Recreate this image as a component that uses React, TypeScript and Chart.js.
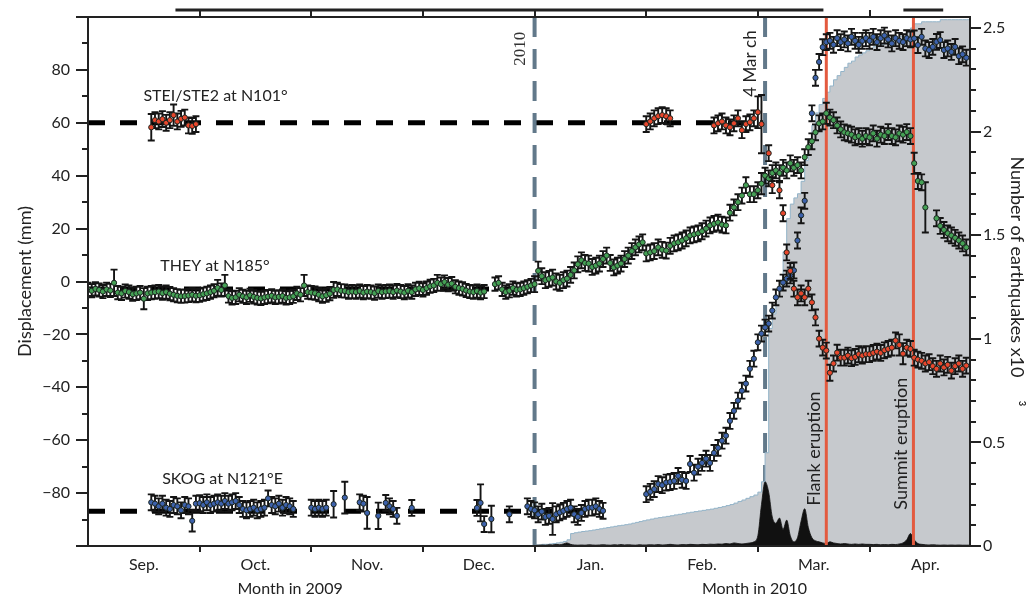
import React, { useEffect, useRef } from "react";
import { Chart, registerables } from "chart.js";

Chart.register(...registerables);

// ---------------- calendar / axes ----------------
const MONTH_LABELS = ["Sep.", "Oct.", "Nov.", "Dec.", "Jan.", "Feb.", "Mar.", "Apr."];
const MONTH_LENGTHS = [30, 31, 30, 31, 31, 28, 31, 30]; // Sep 2009 .. Apr 2010
const MONTH_STARTS = [0, 1, 2, 3, 4, 5, 6, 7];
const X_MAX = 7.9;
const LEFT_MIN = -100;
const LEFT_MAX = 100;
const RIGHT_MAX = 2.553;

// day indices counted from 1 Sep 2009
const SEP1 = 0;
const SEP18 = 17;
const FEB1 = 153;
const DEC31 = 121;

// ---------------- events ----------------
const YEAR_LINE_DAY = 122; // 1 Jan 2010
const MARCH_LINE_DAY = 183;
const FLANK_DAY = 200; // 20 Mar
const SUMMIT_DAY = 223.8;
const TOP_BARS = [
  [23.5, 199.2],
  [221.1, 231.8],
];

// reference (dashed) levels
const STEI_REF = 60;
const STEI_REF_END = 182.5;
const THEY_REF = -2.8;
const THEY_REF_END = 122;
const SKOG_REF = -86.9;
const SKOG_REF_END = 141;

// ---------------- THEY (green) ----------------
const theySep = [-3.0, -3.5, -2.8, -3.2, -3.8, -3.0, -3.4, -0.5, -4.2, -4.5, -3.6, -4.0, -4.8, -4.5, -4.2, -6.5, -4.5, -4.2, -4.0, -3.8, -4.4, -4.0, -4.6, -5.0, -5.4, -5.6, -5.5, -5.3, -5.0, -5.4];
const theyOct = [-5.2, -4.8, -4.5, -4.0, -3.5, -2.4, -3.2, -1.5, -5.5, -6.2, -6.0, -5.0, -5.6, -6.0, -5.2, -5.8, -6.2, -6.4, -6.0, -5.7, -5.4, -6.0, -5.8, -5.5, -6.2, -6.0, -5.6, -4.5, -5.0, -1.5, -4.0];
const theyNov = [-4.2, -4.4, -5.0, -5.6, -5.2, -4.6, -3.2, -3.0, -3.5, -3.6, -4.0, -3.8, -4.0, -3.6, -4.2, -3.8, -4.0, -4.4, -3.6, -4.0, -3.8, -3.6, -4.0, -3.4, -3.8, -4.2, -3.5, -4.0, -3.0, -2.6];
const theyDec = [-3.2, -2.5, -1.8, -1.5, -0.5, -1.0, -0.2, -1.2, -0.8, -2.0, -2.5, -2.8, -3.4, -3.8, -4.0, -3.6, -4.2, -3.8, null, null, -1.0, -0.5, -3.0, -4.0, -3.5, -2.5, -3.2, -3.0, -2.5, -2.0, -1.5];
const theyJan = [-1.0, 4.0, 2.0, 0.5, 1.0, 1.5, 0.0, -0.5, 0.5, 1.1, 2.5, 4.2, 6.5, 8.0, 7.0, 6.8, 5.5, 6.0, 6.8, 8.5, 9.8, 7.0, 5.3, 6.0, 6.8, 8.5, 9.8, 11.5, 12.9, 14.0, 14.8];
const theyFeb = [10.6, 11.0, 11.5, 12.9, 12.0, 11.7, 13.5, 14.4, 14.8, 15.5, 16.3, 17.4, 17.8, 18.2, 19.0, 20.0, 21.2, 21.8, 22.3, 21.5, 21.2, 26.0, 28.0, 30.0, 32.5, 36.4, 33.0, 33.0];
const theyMar = [34.5, 37.0, 40.0, 39.0, 41.0, 42.0, 41.0, 43.0, 42.0, 44.7, 43.0, 44.0, 42.0, 47.0, 50.8, 53.0, 56.4, 59.8, 60.5, 63.6, 62.0, 61.0, 59.0, 57.5, 56.4, 56.0, 55.5, 54.5, 55.0, 54.0, 55.0];
const theyApr = [54.5, 56.0, 54.0, 55.5, 55.0, 56.5, 55.0, 54.5, 56.0, 55.5, 56.5, 55.0, 44.7, 38.0, 37.5, 28.0, null, null, 23.9, 21.0, 19.5, 18.2, 17.4, 16.5, 15.5, 14.4, 12.9];
const theyErr = [
  2.5, 2.5, 2.5, 2.5, 2.5, 2.5, 2.5, 5, 2.5, 2.5, 2.5, 2.5, 2.5, 2.5, 2.5, 4, 2.5, 2.5, 2.5, 2.5, 2.5, 2.5, 2.5, 2.5, 2.5, 2.5, 2.5, 2.5, 2.5, 2.5,
  2.5, 2.5, 2.5, 2.5, 2.5, 3, 2.5, 4, 2.5, 2.5, 2.5, 2.5, 2.5, 2.5, 2.5, 2.5, 2.5, 2.5, 2.5, 2.5, 2.5, 2.5, 2.5, 2.5, 2.5, 2.5, 2.5, 2.5, 2.5, 4, 2.5,
  2.5, 2.5, 2.5, 2.5, 2.5, 2.5, 3, 2.5, 2.5, 2.5, 2.5, 2.5, 2.5, 2.5, 2.5, 2.5, 2.5, 2.5, 2.5, 2.5, 2.5, 2.5, 2.5, 2.5, 2.5, 2.5, 2.5, 2.5, 2.5, 2.5,
  2.5, 2.5, 2.5, 2.5, 3, 2.5, 2.5, 2.5, 2.5, 2.5, 2.5, 2.5, 2.5, 2.5, 2.5, 2.5, 2.5, 2.5, 2.5, 2.5, 2.5, 2.5, 2.5, 2.5, 2.5, 2.5, 2.5, 2.5, 2.5, 2.5, 2.5,
  3, 3.5, 3, 3, 3, 3, 3, 3, 3, 3, 3, 3, 3, 3, 3, 3, 3, 3, 3, 3, 3, 3, 3, 3, 3, 3, 3, 3, 3, 3, 3,
  3, 3, 3, 3, 3, 3, 3, 3, 3, 3, 3, 3, 3, 3, 3, 3, 3, 3, 3, 3, 3, 3, 3, 3, 3, 3, 3, 3,
  3, 4, 3, 3, 3, 3, 3, 3, 3, 3, 3, 3, 3, 3, 3, 3, 3, 3, 3, 4, 3, 3, 3, 3, 3, 3, 3, 3, 3, 3, 3,
  3, 3, 3, 3, 3, 3, 3, 3, 3, 3, 3, 3, 4, 3, 3, 9.5, 3, 3, 3, 3, 3, 3, 3, 3, 3, 3, 3,
];

// ---------------- SKOG (blue) ----------------
const skogSep = [-83.5, -84.0, -85.0, -84.0, -85.5, -86.0, -84.5, -85.0, -86.5, -84.5, -85.0, -90.5, -84.0];
const skogOct = [-83.8, -84.5, -83.5, -84.5, -84.0, -83.5, -84.0, -83.0, -84.0, -83.5, -83.0, -84.5, -86.0, -86.5, -86.0, -85.5, -86.5, -86.0, -85.5, -82.0, -84.5, -85.0, -84.0, -85.5, -84.5, -85.0, -86.0, null, null, null, null];
const skogNov = [-85.5, -86.0, -85.5, -86.0, -85.5, null, -84.2, null, null, -81.7, null, null, null, -83.5, -84.0, -87.5, null, null, -88.6, null, -83.7, -85.0, -86.0, -88.6, null, null, null, -85.6, null, null];
const skogDec = [null, null, null, null, null, null, null, null, null, null, null, null, null, null, null, -85.6, -83.7, -91.7, null, -89.8, null, null, null, null, -88.0, null, null, null, null, -85.0, -86.0];
const skogJan = [-86.5, -88.0, -87.0, -89.0, -88.6, -89.8, -88.0, -87.3, -86.7, -86.0, -85.5, -88.0, -89.0, -87.5, -86.0, -85.5, -85.5, -85.0, -86.0, -86.7, null, null, null, null, null, null, null, null, null, null, null];
const skogFeb = [-80.4, -79.5, -78.5, -76.6, -77.0, -76.0, -75.8, -75.4, -73.5, -75.0, -75.4, -69.0, -72.3, -70.0, -68.6, -67.0, -68.6, -64.8, -62.9, -60.2, -58.3, -52.7, -48.9, -45.0, -41.3, -38.6, -33.0, -29.2];
const skogMar = [-23.0, -19.7, -17.4, -15.9, -11.0, -6.0, -2.7, -0.4, 1.1, 2.3, 4.2, 15.5, 25.0, 30.5, null, 63.6, 77.0, 83.0, 88.6, 90.5, 91.0, 89.5, 92.0, 90.5, 91.5, 90.0, 92.5, 91.0, 89.5, 91.0, 92.0];
const skogApr = [91.0, 92.5, 90.5, 92.0, 93.0, 91.5, 90.0, 92.0, 91.0, 90.5, 92.0, 91.5, 91.9, 89.4, 92.5, 88.1, 87.5, 88.7, 90.6, 91.3, 87.5, 88.1, 86.8, 88.7, 85.2, 85.9, 84.6];
const skogErr = [
  3, 3, 3, 3, 3, 3, 3, 3, 3, 3, 3, 4, 3,
  3, 3, 3, 3, 3, 3, 3, 3, 3, 3, 3, 3, 3, 3, 3, 3, 3, 3, 3, 3, 3, 3, 3, 3, 3, 3, 3, 3, 3, 3, 3,
  3, 3, 3, 3, 3, 0, 5, 0, 0, 6, 0, 0, 0, 3, 3, 6, 0, 0, 5, 0, 3, 3, 3, 3, 0, 0, 0, 3, 0, 0,
  0, 0, 0, 0, 0, 0, 0, 0, 0, 0, 0, 0, 0, 0, 0, 3, 7, 3, 0, 5, 0, 0, 0, 0, 3, 0, 0, 0, 0, 3, 3,
  3, 3, 3, 3, 3, 6, 3, 3, 3, 3, 3, 3, 3, 3, 3, 3, 3, 3, 3, 3, 0, 0, 0, 0, 0, 0, 0, 0, 0, 0, 0,
  3, 3, 3, 3, 3, 3, 3, 3, 3, 3, 3, 3, 3, 3, 3, 3, 3, 3, 3, 3, 3, 3, 3, 3, 3, 3, 3, 3,
  3, 3, 3, 3, 3, 3, 3, 3, 3, 3, 3, 3, 3, 3, 0, 3, 3, 3, 3, 3, 3, 3, 3, 3, 3, 3, 3, 3, 3, 3, 3,
  3, 3, 3, 3, 3, 3, 3, 3, 3, 3, 3, 3, 3, 3, 3, 3, 3, 3, 3, 3, 3, 3, 3, 3, 3, 3, 3,
];

// ---------------- STEI/STE2 (red) ----------------
const steiSep = [58.3, 61.0, 60.5, 61.4, 60.0, 61.0, 62.9, 60.5, 61.5, 62.0, 59.0, 58.8, 59.5];
const steiSepErr = [5, 3, 3, 3, 3, 3, 4, 3, 3, 3, 3, 3, 3];
const steiFeb = [59.5, 60.5, 61.7, 62.5, 62.9, 62.5, 61.7, null, null, null, null, null, null, null, null, null, null, 59.0, 59.8, 60.5, 59.0, 58.3, 59.8, 61.7, 57.2, 59.5, 60.2, 61.7];
const steiMar = [64.0, 59.5, null, 48.5, 36.4, null, 34.5, 25.8, 11.0, 4.0, -2.7, -6.0, -4.5, -6.0, -2.7, -7.9, -13.6, -21.6, -25.0, -26.1, -34.5, -31.0, -26.9, -28.8, -28.8, -28.0, -29.0, -28.5, -27.5, -28.0, -27.5];
const steiApr = [-27.5, -27.0, -26.5, -27.0, -26.0, -25.5, -25.0, -22.3, -24.0, -27.3, -25.0, -25.5, -28.8, -29.5, -30.0, -31.0, -30.5, -32.0, -33.0, -31.0, -32.5, -31.5, -33.7, -32.0, -31.0, -33.0, -31.8];
const steiSpringErr = [
  3, 3, 3, 3, 3, 3, 3, 0, 0, 0, 0, 0, 0, 0, 0, 0, 0, 3, 3, 3, 3, 3, 3, 3, 3, 3, 3, 3,
  6, 11, 0, 3, 3, 0, 3, 3, 3, 3, 3, 3, 3, 3, 3, 3, 3, 3, 3, 3, 3, 3, 3, 3, 3, 3, 3, 3, 3, 3, 3,
  3, 3, 3, 3, 3, 3, 3, 3, 4, 4, 3, 3, 3, 3, 3, 3, 3, 3, 3, 3, 3, 3, 3, 3, 3, 3, 3,
];

// ---------------- earthquakes (x10^3), from 31 Dec 2009 ----------------
const quakeCumDec = [0];
const quakeCumJan = [0.005, 0.005, 0.008, 0.008, 0.01, 0.012, 0.015, 0.018, 0.022, 0.03, 0.06, 0.064, 0.067, 0.07, 0.072, 0.074, 0.077, 0.08, 0.083, 0.086, 0.089, 0.092, 0.095, 0.098, 0.1, 0.103, 0.106, 0.11, 0.114, 0.118, 0.122];
const quakeCumFeb = [0.126, 0.13, 0.134, 0.137, 0.14, 0.143, 0.146, 0.15, 0.153, 0.156, 0.16, 0.163, 0.166, 0.169, 0.172, 0.175, 0.178, 0.182, 0.186, 0.19, 0.195, 0.2, 0.207, 0.215, 0.222, 0.23, 0.238, 0.246];
const quakeCumMar = [0.26, 0.31, 0.45, 1.05, 1.12, 1.2, 1.26, 1.42, 1.58, 1.65, 1.68, 1.7, 1.76, 1.86, 1.96, 2.03, 2.09, 2.13, 2.16, 2.19, 2.22, 2.25, 2.27, 2.29, 2.31, 2.33, 2.34, 2.36, 2.37, 2.38, 2.39];
const quakeCumApr = [2.4, 2.41, 2.42, 2.42, 2.43, 2.43, 2.44, 2.45, 2.46, 2.47, 2.48, 2.5, 2.52, 2.52, 2.53, 2.53, 2.53, 2.53, 2.53, 2.54, 2.54, 2.54, 2.54, 2.54, 2.54, 2.54, 2.54, 2.54];

const quakeDayDec = [0];
const quakeDayJan = [0.003, 0.004, 0.005, 0.004, 0.006, 0.005, 0.008, 0.006, 0.01, 0.015, 0.008, 0.005, 0.004, 0.005, 0.004, 0.006, 0.005, 0.004, 0.005, 0.006, 0.005, 0.004, 0.006, 0.005, 0.007, 0.005, 0.006, 0.005, 0.004, 0.006, 0.005];
const quakeDayFeb = [0.005, 0.006, 0.005, 0.007, 0.005, 0.006, 0.008, 0.006, 0.005, 0.007, 0.006, 0.008, 0.007, 0.006, 0.008, 0.007, 0.009, 0.008, 0.01, 0.009, 0.012, 0.01, 0.015, 0.012, 0.01, 0.012, 0.015, 0.02];
const quakeDayMar = [0.05, 0.2, 0.31, 0.26, 0.14, 0.11, 0.135, 0.08, 0.125, 0.05, 0.02, 0.04, 0.12, 0.18, 0.09, 0.04, 0.025, 0.02, 0.015, 0.012, 0.02, 0.015, 0.012, 0.01, 0.012, 0.01, 0.008, 0.01, 0.008, 0.01, 0.008];
const quakeDayApr = [0.008, 0.007, 0.008, 0.006, 0.007, 0.006, 0.008, 0.007, 0.01, 0.015, 0.03, 0.06, 0.03, 0.012, 0.008, 0.006, 0.005, 0.006, 0.005, 0.004, 0.005, 0.004, 0.005, 0.004, 0.005, 0.004, 0.004, 0.004];

// ---------------- colours ----------------
const RED_PT = "#e8472d";
const GREEN_PT = "#45a155";
const BLUE_PT = "#3d62ad";
const OUTLINE = "#1c2621";
const ERR_COL = "#141414";
const RED_LINE = "#e35a3f";
const STEEL = "#62798a";
const GREY_FILL = "#c6c9cd";
const GREY_EDGE = "#93b4c9";
const INK = "#222222";

// ---------------- helpers ----------------
function dayToMonth(day: number): number {
  let m = 0;
  let rem = day;
  while (m < MONTH_LENGTHS.length - 1 && rem >= MONTH_LENGTHS[m]) {
    rem -= MONTH_LENGTHS[m];
    m++;
  }
  return m + rem / MONTH_LENGTHS[m];
}

type Pt = { x: number; y: number; e?: number };

function toPoints(start: number, values: (number | null)[], errors?: number[]): Pt[] {
  const out: Pt[] = [];
  values.forEach((v, i) => {
    if (v === null || v === undefined) return;
    out.push({ x: dayToMonth(start + i), y: v, e: errors ? errors[i] : undefined });
  });
  return out;
}

function fmtMinus(v: number): string {
  return v < 0 ? "\u2212" + Math.abs(v) : String(v);
}

const errorBarPlugin = {
  id: "errorBars",
  beforeDatasetDraw(chart: any, args: any) {
    const ds = chart.data.datasets[args.index];
    if (!ds.errorBars) return;
    const meta = args.meta;
    const ys = chart.scales[meta.yAxisID || "y"];
    const a = chart.chartArea;
    const ctx = chart.ctx;
    ctx.save();
    ctx.beginPath();
    ctx.rect(a.left, a.top, a.right - a.left, a.bottom - a.top);
    ctx.clip();
    ctx.strokeStyle = ERR_COL;
    ctx.lineWidth = 1.9;
    ctx.beginPath();
    meta.data.forEach((el: any, i: number) => {
      const raw = ds.data[i];
      if (!raw || !raw.e) return;
      const x = el.x;
      const yt = ys.getPixelForValue(raw.y + raw.e);
      const yb = ys.getPixelForValue(raw.y - raw.e);
      ctx.moveTo(x, yt);
      ctx.lineTo(x, yb);
      ctx.moveTo(x - 3.5, yt);
      ctx.lineTo(x + 3.5, yt);
      ctx.moveTo(x - 3.5, yb);
      ctx.lineTo(x + 3.5, yb);
    });
    ctx.stroke();
    ctx.restore();
  },
};

const SERIES_LABELS = [
  { text: "STEI/STE2 at N101\u00b0", x: 1.142, y: 70.1 },
  { text: "THEY at N185\u00b0", x: 1.137, y: 5.9 },
  { text: "SKOG at N121\u00b0E", x: 1.205, y: -74.7 },
];

const EVENT_LABELS = [
  { text: "2010", day: YEAR_LINE_DAY, dx: -14, y: 88, font: '17px "Liberation Serif"' },
  { text: "4 Mar ch", day: MARCH_LINE_DAY, dx: -15, y: 82.4, font: "17px Lato" },
  { text: "Flank eruption", day: FLANK_DAY, dx: -12, y: -63.2, font: "18px Lato" },
  { text: "Summit eruption", day: SUMMIT_DAY, dx: -12, y: -61.3, font: "18px Lato" },
];

const YEAR_LABELS = [
  { text: "Month in 2009", x: 1.81 },
  { text: "Month in 2010", x: 5.97 },
];

const decorPlugin = {
  id: "decor",
  afterDatasetsDraw(chart: any) {
    const { ctx, scales } = chart;
    const xs = scales.x;
    const ys = scales.y;
    ctx.save();
    ctx.fillStyle = INK;
    ctx.textAlign = "center";
    ctx.textBaseline = "middle";
    ctx.font = "16px Lato";
    SERIES_LABELS.forEach((l) => {
      ctx.fillText(l.text, xs.getPixelForValue(l.x), ys.getPixelForValue(l.y));
    });
    EVENT_LABELS.forEach((l) => {
      ctx.save();
      ctx.font = l.font;
      ctx.fillStyle = l.text === "2010" ? "#333" : INK;
      ctx.translate(xs.getPixelForValue(dayToMonth(l.day)) + l.dx, ys.getPixelForValue(l.y));
      ctx.rotate(-Math.PI / 2);
      ctx.fillText(l.text, 0, 0);
      ctx.restore();
    });
    ctx.restore();
  },
  afterDraw(chart: any) {
    const { ctx, chartArea: a, scales } = chart;
    const xs = scales.x;
    const ys = scales.y;
    const y1 = scales.y1;
    ctx.save();
    ctx.strokeStyle = INK;
    ctx.lineWidth = 2;
    // top frame
    ctx.beginPath();
    ctx.moveTo(a.left, a.top);
    ctx.lineTo(a.right, a.top);
    ctx.stroke();
    // top month ticks
    ctx.beginPath();
    MONTH_STARTS.slice(1).forEach((m) => {
      const px = Math.round(xs.getPixelForValue(m));
      ctx.moveTo(px, a.top - 7);
      ctx.lineTo(px, a.top);
    });
    ctx.stroke();
    // top bars
    ctx.lineWidth = 3;
    ctx.beginPath();
    TOP_BARS.forEach(([s, e]) => {
      ctx.moveTo(xs.getPixelForValue(dayToMonth(s)), a.top - 7);
      ctx.lineTo(xs.getPixelForValue(dayToMonth(e)), a.top - 7);
    });
    ctx.stroke();
    // minor ticks
    ctx.lineWidth = 2;
    ctx.beginPath();
    for (let v = -90; v <= 90; v += 20) {
      const py = Math.round(ys.getPixelForValue(v));
      ctx.moveTo(a.left - 6, py);
      ctx.lineTo(a.left, py);
    }
    for (let k = 1; k <= 25; k++) {
      if (k % 5 === 0) continue;
      const py = Math.round(y1.getPixelForValue(k / 10));
      ctx.moveTo(a.right, py);
      ctx.lineTo(a.right + 6, py);
    }
    ctx.stroke();
    // year labels
    ctx.fillStyle = INK;
    ctx.font = "16px Lato";
    ctx.textAlign = "center";
    ctx.textBaseline = "middle";
    YEAR_LABELS.forEach((l) => ctx.fillText(l.text, xs.getPixelForValue(l.x), 589));
    ctx.restore();
  },
};

function vLine(day: number) {
  const x = dayToMonth(day);
  return [
    { x, y: LEFT_MAX },
    { x, y: LEFT_MIN },
  ];
}

function hLine(level: number, endDay: number) {
  return [
    { x: 0, y: level },
    { x: dayToMonth(endDay), y: level },
  ];
}

export default function App() {
  const ref = useRef<HTMLCanvasElement>(null);

  useEffect(() => {
    document.body.style.margin = "0";
    const theyPts = toPoints(SEP1, [...theySep, ...theyOct, ...theyNov, ...theyDec, ...theyJan, ...theyFeb, ...theyMar, ...theyApr], theyErr);
    const skogPts = toPoints(SEP18, [...skogSep, ...skogOct, ...skogNov, ...skogDec, ...skogJan, ...skogFeb, ...skogMar, ...skogApr], skogErr);
    const steiPts = [
      ...toPoints(SEP18, steiSep, steiSepErr),
      ...toPoints(FEB1, [...steiFeb, ...steiMar, ...steiApr], steiSpringErr),
    ];
    const cumPts = toPoints(DEC31, [...quakeCumDec, ...quakeCumJan, ...quakeCumFeb, ...quakeCumMar, ...quakeCumApr]);
    const dayPts = toPoints(DEC31, [...quakeDayDec, ...quakeDayJan, ...quakeDayFeb, ...quakeDayMar, ...quakeDayApr]);

    const pointStyle = (color: string, order: number) => ({
      showLine: false,
      pointRadius: 2.6,
      pointHoverRadius: 2.6,
      pointBackgroundColor: color,
      pointBorderColor: OUTLINE,
      pointBorderWidth: 1,
      borderColor: color,
      errorBars: true,
      order,
      yAxisID: "y",
    });
    const plainLine = (data: Pt[], color: string, width: number, order: number, dash?: number[]) => ({
      data,
      borderColor: color,
      borderWidth: width,
      borderDash: dash || [],
      borderCapStyle: "butt",
      pointRadius: 0,
      fill: false,
      order,
      yAxisID: "y",
    });

    const tickFont = { family: "Lato", size: 16 };
    const chart = new Chart(ref.current as HTMLCanvasElement, {
      type: "line",
      data: {
        datasets: [
          { label: "STEI/STE2", data: steiPts, ...pointStyle(RED_PT, 0) } as any,
          { label: "THEY", data: theyPts, ...pointStyle(GREEN_PT, 1) } as any,
          { label: "SKOG", data: skogPts, ...pointStyle(BLUE_PT, 2) } as any,
          plainLine(vLine(FLANK_DAY), RED_LINE, 3, 3) as any,
          plainLine(vLine(SUMMIT_DAY), RED_LINE, 3, 3) as any,
          {
            label: "daily",
            data: dayPts,
            yAxisID: "y1",
            borderColor: "#111",
            borderWidth: 0.8,
            backgroundColor: "#111",
            fill: "origin",
            pointRadius: 0,
            cubicInterpolationMode: "monotone",
            order: 4,
          } as any,
          {
            label: "cumulative",
            data: cumPts,
            yAxisID: "y1",
            stepped: true,
            borderColor: GREY_EDGE,
            borderWidth: 1,
            backgroundColor: GREY_FILL,
            fill: "origin",
            pointRadius: 0,
            order: 5,
          } as any,
          plainLine(vLine(YEAR_LINE_DAY), STEEL, 4, 6, [20, 12]) as any,
          plainLine(vLine(MARCH_LINE_DAY), STEEL, 4, 6, [20, 12]) as any,
          plainLine(hLine(STEI_REF, STEI_REF_END), "#000", 5, 7, [17, 15]) as any,
          plainLine(hLine(THEY_REF, THEY_REF_END), "#000", 5, 7, [17, 15]) as any,
          plainLine(hLine(SKOG_REF, SKOG_REF_END), "#000", 5, 7, [17, 15]) as any,
        ],
      },
      options: {
        animation: false,
        responsive: false,
        maintainAspectRatio: false,
        devicePixelRatio: 1,
        events: [],
        layout: { padding: { top: 17, left: 0, right: 0, bottom: 0 } },
        plugins: { legend: { display: false }, tooltip: { enabled: false } },
        scales: {
          x: {
            type: "linear",
            position: "bottom",
            min: 0,
            max: X_MAX,
            afterBuildTicks: (s: any) => {
              s.ticks = MONTH_STARTS.map((v) => ({ value: v }));
            },
            ticks: {
              autoSkip: false,
              maxRotation: 0,
              minRotation: 0,
              labelOffset: 55.8,
              padding: 3,
              color: INK,
              font: tickFont,
              callback: (_v: any, i: number) => MONTH_LABELS[i],
            },
            grid: {
              display: true,
              drawOnChartArea: false,
              drawTicks: true,
              tickLength: 6,
              lineWidth: 2,
              color: INK,
              tickColor: (c: any) => (c.tick && c.tick.value === 0 ? "rgba(0,0,0,0)" : INK),
            },
            border: { display: true, color: INK, width: 2, z: 1 },
            afterFit: (s: any) => {
              s.height = 54;
            },
          },
          y: {
            type: "linear",
            position: "left",
            min: LEFT_MIN,
            max: LEFT_MAX,
            ticks: {
              stepSize: 20,
              padding: 6,
              color: INK,
              font: tickFont,
              callback: (v: any) => (v === LEFT_MAX || v === LEFT_MIN ? "" : fmtMinus(Number(v))),
            },
            grid: { drawOnChartArea: false, drawTicks: true, tickLength: 12, lineWidth: 2, color: INK },
            border: { display: true, color: INK, width: 2, z: 1 },
            title: {
              display: true,
              text: "Displacement (mm)",
              color: INK,
              font: { family: "Lato", size: 18 },
              padding: { top: 14, bottom: 0 },
            },
            afterFit: (s: any) => {
              s.width = 88;
            },
          },
          y1: {
            type: "linear",
            position: "right",
            min: 0,
            max: RIGHT_MAX,
            ticks: {
              stepSize: 0.5,
              includeBounds: false,
              padding: 2,
              color: INK,
              font: tickFont,
              callback: (v: any) => String(Number(v)),
            },
            grid: { drawOnChartArea: false, drawTicks: true, tickLength: 11, lineWidth: 2, color: INK },
            border: { display: true, color: INK, width: 2, z: 1 },
            title: {
              display: true,
              text: "Number of earthquakes x10     \u00b3",
              color: INK,
              font: { family: "Lato", size: 18 },
              padding: { top: 7, bottom: 0 },
            },
            afterFit: (s: any) => {
              s.width = 65;
            },
          },
        },
      } as any,
      plugins: [errorBarPlugin as any, decorPlugin as any],
    });
    return () => chart.destroy();
  }, []);

  return (
    <div style={{ width: 1035, height: 600, background: "#fff" }}>
      <canvas ref={ref} width={1035} height={600} style={{ display: "block", width: 1035, height: 600 }} />
    </div>
  );
}
